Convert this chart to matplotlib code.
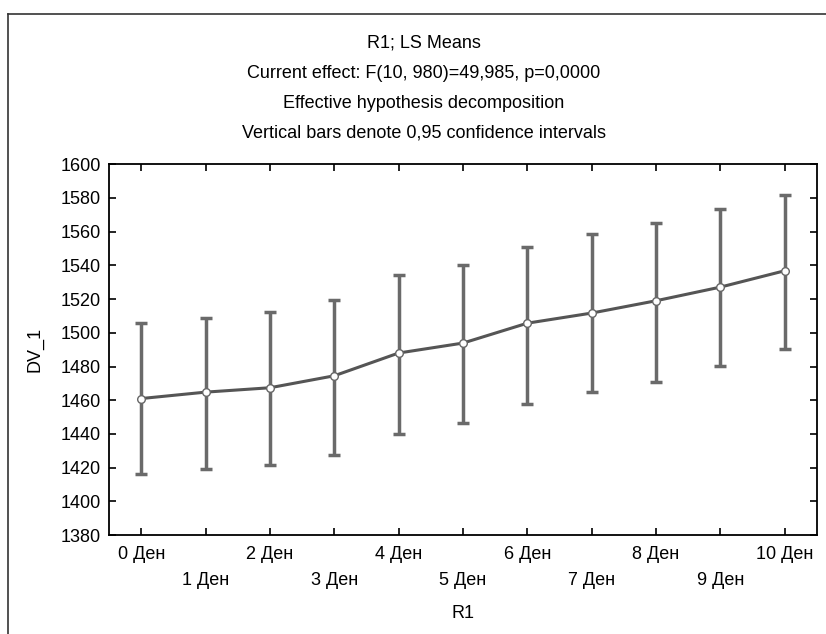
import matplotlib.pyplot as plt
from matplotlib.lines import Line2D

plt.rcParams['font.family'] = ['Liberation Sans', 'DejaVu Sans']

levels = ['0 Ден', '1 Ден', '2 Ден', '3 Ден', '4 Ден', '5 Ден',
          '6 Ден', '7 Ден', '8 Ден', '9 Ден', '10 Ден']
means = [1461, 1464.8, 1467.4, 1474.5, 1488, 1493.9, 1505.7, 1511.7, 1519, 1527.1, 1536.8]
upper = [1506, 1508.7, 1512.3, 1519.6, 1534, 1540.1, 1551, 1558.5, 1565, 1573.4, 1581.5]
lower = [1416, 1419.5, 1421.6, 1427.3, 1440, 1446.5, 1458, 1464.6, 1471, 1480.5, 1490.5]

x = list(range(len(levels)))
err_lo = [m - l for m, l in zip(means, lower)]
err_hi = [u - m for m, u in zip(means, upper)]

fig = plt.figure(figsize=(8.26, 6.34), dpi=100)
ax = fig.add_axes([0.132, 0.156, 0.857, 0.585])

ax.errorbar(x, means, yerr=[err_lo, err_hi], fmt='none', ecolor='#6a6a6a',
            elinewidth=2.5, capsize=4, capthick=2.5, zorder=2)
ax.plot(x, means, color='#555555', linewidth=2.2, marker='o', markersize=5.5,
        markerfacecolor='white', markeredgecolor='#666666', markeredgewidth=1, zorder=3)

ax.set_xlim(-0.5, 10.5)
ax.set_ylim(1380, 1600)
ax.set_yticks(range(1380, 1601, 20))
ax.set_xticks(x)
labels = [lab if i % 2 == 0 else '\n' + lab for i, lab in enumerate(levels)]
ax.set_xticklabels(labels, fontsize=13, linespacing=1.65)
ax.tick_params(axis='y', labelsize=13, pad=6)
ax.tick_params(axis='x', pad=8)
ax.tick_params(direction='in', top=True, right=True, length=5, width=1.2)
for s in ax.spines.values():
    s.set_linewidth(1.3)

ax.set_xlabel('R1', fontsize=13, labelpad=12)
ax.set_ylabel('DV_1', fontsize=13, labelpad=12)

titles = ['R1; LS Means',
          'Current effect: F(10, 980)=49,985, p=0,0000',
          'Effective hypothesis decomposition',
          'Vertical bars denote 0,95 confidence intervals']
for i, t in enumerate(titles):
    fig.text(0.513, 1 - (43 + 30 * i) / 634, t, ha='center', va='center', fontsize=13)

# outer frame lines
fig.add_artist(Line2D([8 / 826, 1], [1 - 14 / 634, 1 - 14 / 634], color='#333333', lw=1.2))
fig.add_artist(Line2D([8 / 826, 8 / 826], [0, 1 - 14 / 634], color='#333333', lw=1.2))

plt.savefig('out.png', dpi=100)
